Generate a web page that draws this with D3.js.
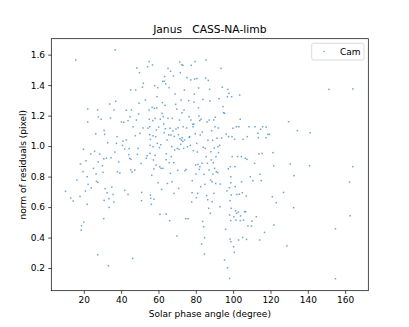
<!DOCTYPE html>
<html>
<head>
<meta charset="utf-8">
<script src="https://cdn.jsdelivr.net/npm/d3@7"></script>
<style>
  body { margin: 0; background: #fff; }
  svg { display: block; font-family: "DejaVu Sans", sans-serif; }
</style>
</head>
<body>
<div id="chart"></div>
<script>
// Janus / CASS-NA-limb residuals
var chartTitle = "Janus   CASS-NA-limb";
var seriesName = "Cam";
var xTicks = [20, 40, 60, 80, 100, 120, 140, 160];
var yTicks = [0.2, 0.4, 0.6, 0.8, 1.0, 1.2, 1.4, 1.6];

var phaseAngle = [
  10.2, 13.0, 14.3, 15.7, 16.3, 18.2, 18.0, 18.8, 18.6, 20.0, 19.6, 19.8, 20.9, 21.2, 21.8, 21.8, 22.1, 22.1, 22.3, 23.7,
  24.0, 25.2, 25.8, 26.4, 26.6, 26.8, 27.4, 27.8, 27.7, 27.5, 27.5, 28.6, 29.3, 30.0, 30.3, 30.7, 30.9, 31.2, 30.9, 31.4,
  30.7, 32.1, 32.5, 32.8, 33.2, 33.5, 33.6, 33.9, 34.3, 34.6, 35.0, 35.7, 36.1, 36.2, 36.6, 36.8, 37.1, 37.5, 37.8, 38.0,
  38.7, 39.3, 40.2, 40.7, 41.0, 41.4, 41.9, 41.9, 42.8, 42.8, 43.7, 43.7, 44.1, 44.3, 44.6, 44.8, 45.1, 45.1, 45.3, 45.9,
  45.5, 46.2, 46.4, 47.3, 47.6, 47.8, 48.2, 48.4, 48.7, 49.1, 49.4, 49.6, 49.8, 50.1, 50.7, 50.9, 51.0, 51.4, 51.7, 51.9,
  53.0, 53.5, 53.9, 54.2, 54.4, 55.0, 55.0, 55.1, 55.3, 55.3, 55.5, 55.5, 55.7, 55.7, 55.8, 56.2, 56.4, 56.6, 56.8, 57.0,
  57.1, 57.1, 57.3, 57.5, 57.6, 57.8, 58.0, 58.2, 58.2, 58.5, 58.7, 58.9, 59.1, 59.2, 59.4, 59.6, 59.8, 60.1, 60.5, 60.7,
  60.8, 61.0, 61.2, 61.4, 61.7, 61.9, 62.1, 62.3, 62.4, 62.6, 62.8, 63.0, 63.2, 63.3, 63.5, 63.7, 63.9, 64.1, 64.2, 64.2,
  64.6, 64.8, 65.1, 65.1, 65.5, 65.7, 65.8, 66.0, 66.2, 66.4, 66.5, 66.7, 66.9, 67.1, 67.3, 67.4, 67.8, 68.0, 68.2, 68.3,
  68.5, 68.7, 68.9, 69.2, 69.4, 69.8, 69.9, 70.1, 70.3, 70.5, 70.7, 70.8, 71.0, 71.2, 71.4, 71.5, 71.7, 71.9, 72.1, 72.3,
  72.4, 72.6, 72.8, 73.0, 73.1, 73.3, 73.5, 73.7, 73.9, 74.0, 74.2, 74.6, 74.8, 75.1, 75.3, 75.5, 75.8, 76.2, 76.4, 76.5,
  76.7, 77.1, 77.3, 77.4, 77.6, 77.8, 78.0, 78.1, 78.3, 78.5, 78.7, 78.9, 79.0, 79.2, 79.4, 79.6, 79.7, 79.9, 80.1, 80.3,
  80.5, 80.6, 80.8, 81.0, 81.2, 81.4, 81.5, 81.7, 81.9, 82.1, 82.2, 82.4, 82.6, 82.8, 83.1, 83.3, 83.5, 83.7, 83.8, 84.0,
  84.2, 84.4, 84.6, 84.7, 84.9, 85.1, 85.3, 85.5, 85.6, 85.8, 86.0, 86.2, 86.4, 86.5, 86.7, 86.9, 87.1, 87.2, 87.4, 87.6,
  87.8, 87.9, 88.1, 88.3, 88.5, 88.7, 88.8, 89.0, 89.2, 89.4, 89.6, 89.7, 89.9, 90.1, 90.3, 90.4, 90.6, 90.8, 91.0, 91.3,
  91.7, 91.9, 92.1, 92.2, 92.4, 92.8, 92.9, 93.1, 93.5, 93.8, 94.2, 94.5, 94.9, 95.4, 95.4, 96.0, 96.3, 96.7, 96.9, 97.0,
  97.2, 97.4, 97.6, 97.8, 98.0, 98.1, 98.1, 98.3, 98.3, 98.5, 98.7, 98.7, 98.8, 98.8, 99.0, 99.0, 99.2, 99.4, 99.5, 99.9,
  100.3, 100.4, 100.6, 100.8, 101.0, 101.1, 101.3, 101.5, 101.7, 101.9, 102.0, 102.4, 102.8, 102.9, 103.1, 103.3, 103.5, 103.8, 103.8, 104.0,
  104.4, 104.5, 104.9, 105.1, 105.3, 105.6, 106.1, 106.5, 106.7, 107.0, 107.2, 107.4, 107.6, 107.9, 108.5, 109.2, 109.8, 110.1, 110.6, 111.5,
  111.7, 112.4, 113.3, 113.5, 113.8, 114.2, 114.4, 114.7, 115.1, 115.5, 115.8, 116.8, 117.6, 117.7, 118.6, 119.5, 121.0, 121.3, 121.7, 121.9,
  123.1, 127.0, 128.8, 129.7, 130.6, 132.4, 132.6, 134.4, 140.9, 141.3, 151.3, 154.8, 154.8, 162.3, 162.7, 164.1, 164.1
];

var residualNorm = [
  0.703, 0.659, 0.640, 1.565, 0.777, 0.882, 0.670, 0.478, 0.449, 0.502, 0.832, 0.979, 0.705, 0.904, 0.799, 0.618, 1.243, 1.158, 0.749, 0.948,
  0.725, 0.854, 0.966, 1.081, 0.817, 0.769, 1.237, 1.191, 0.896, 0.287, 0.762, 0.948, 1.176, 0.871, 0.828, 0.917, 1.103, 1.077, 0.644, 0.721,
  0.524, 0.921, 0.694, 1.022, 0.215, 0.655, 0.598, 1.276, 1.184, 0.924, 0.731, 0.683, 0.633, 1.237, 0.961, 1.631, 1.294, 1.018, 1.062, 0.832,
  0.896, 0.823, 1.158, 1.005, 1.033, 1.156, 0.710, 0.981, 1.235, 1.040, 1.167, 0.683, 0.944, 0.983, 0.919, 1.193, 0.845, 1.368, 0.913, 0.830,
  1.237, 0.263, 1.127, 0.843, 1.068, 1.368, 1.171, 1.512, 0.946, 0.985, 1.211, 1.281, 1.482, 1.084, 0.887, 0.642, 0.696, 1.386, 1.119, 1.412,
  1.302, 0.920, 0.937, 1.521, 1.117, 1.554, 1.237, 1.176, 1.127, 1.075, 1.005, 0.952, 1.044, 0.679, 0.657, 0.618, 0.808, 1.254, 1.532, 1.167,
  1.068, 0.996, 0.909, 0.850, 0.651, 1.248, 1.397, 1.182, 0.939, 1.062, 0.876, 1.106, 1.250, 1.324, 1.018, 1.383, 0.760, 1.125, 0.990, 0.865,
  0.552, 1.176, 1.009, 0.854, 0.716, 1.215, 1.285, 1.425, 0.854, 1.193, 1.145, 1.088, 1.425, 1.456, 1.267, 1.114, 1.408, 0.911, 0.950, 0.554,
  1.040, 0.755, 1.510, 1.182, 1.073, 1.383, 0.891, 0.511, 1.117, 0.821, 1.491, 1.073, 0.931, 0.996, 0.766, 1.182, 1.099, 1.460, 0.891, 0.690,
  1.064, 0.974, 1.342, 1.274, 1.112, 1.243, 0.410, 0.985, 0.841, 1.121, 1.075, 0.723, 0.979, 1.171, 1.552, 1.049, 1.482, 1.012, 1.302, 1.040,
  1.534, 1.219, 1.055, 1.031, 1.530, 1.127, 0.985, 1.237, 1.368, 1.040, 0.839, 0.524, 0.847, 1.119, 1.449, 0.996, 0.524, 1.298, 1.193, 1.057,
  1.062, 1.005, 1.434, 1.171, 1.530, 0.633, 0.694, 0.773, 1.143, 1.127, 0.970, 1.145, 1.289, 1.342, 1.440, 1.554, 1.081, 0.876, 0.817, 0.661,
  1.018, 1.443, 0.961, 0.690, 0.880, 1.252, 1.381, 1.197, 0.847, 1.167, 0.865, 1.073, 0.734, 1.176, 0.357, 0.887, 1.092, 0.506, 1.307, 0.992,
  0.471, 0.815, 0.292, 0.399, 0.749, 0.985, 1.447, 1.565, 0.931, 0.675, 1.158, 0.887, 0.648, 1.038, 1.431, 0.592, 0.843, 1.171, 1.372, 1.296,
  0.559, 0.777, 0.963, 0.909, 1.101, 0.766, 0.635, 1.038, 0.815, 0.891, 1.171, 0.690, 0.987, 0.854, 1.127, 1.189, 0.755, 0.931, 0.832, 1.051,
  0.826, 0.996, 1.119, 0.957, 1.311, 1.005, 0.602, 0.751, 1.510, 1.053, 1.386, 1.259, 1.219, 1.215, 0.252, 0.454, 1.079, 0.707, 1.324, 0.202,
  1.372, 0.852, 1.062, 1.346, 0.727, 0.132, 0.548, 0.642, 0.390, 0.865, 0.799, 0.511, 0.760, 0.373, 0.679, 0.592, 1.324, 1.062, 0.931, 1.117,
  0.340, 0.537, 0.303, 1.044, 0.865, 0.734, 0.576, 0.515, 1.127, 0.559, 0.683, 0.931, 0.568, 0.384, 1.127, 0.685, 1.335, 1.176, 0.511, 0.542,
  0.931, 0.766, 0.694, 0.401, 1.044, 0.515, 0.570, 0.920, 0.570, 0.672, 0.388, 0.913, 1.062, 0.476, 1.127, 0.799, 0.476, 0.508, 0.773, 0.887,
  1.127, 0.537, 1.084, 1.055, 0.948, 0.384, 0.815, 1.110, 0.773, 0.952, 1.127, 0.434, 1.055, 1.125, 1.077, 1.077, 0.668, 0.957, 0.871, 0.482,
  0.629, 0.696, 0.346, 1.160, 0.882, 0.596, 0.806, 1.101, 0.871, 1.088, 1.372, 0.458, 0.130, 0.764, 0.543, 1.375, 0.865
];

var width = 409, height = 327;
var margin = { top: 38.7, right: 40.7, bottom: 36.3, left: 51.3 };
var innerW = width - margin.left - margin.right;
var innerH = height - margin.top - margin.bottom;

var svg = d3.select('#chart').append('svg')
    .attr('width', width)
    .attr('height', height);

var x = d3.scaleLinear().domain([2.6, 172.4]).range([0, innerW]);
var y = d3.scaleLinear().domain([0.0515, 1.7045]).range([innerH, 0]);

var g = svg.append('g')
    .attr('transform', 'translate(' + margin.left + ',' + margin.top + ')');

// points
var pts = d3.range(phaseAngle.length).map(function(i){
    return { a: phaseAngle[i], r: residualNorm[i] };
});
g.selectAll('rect.pt').data(pts).enter().append('rect')
    .attr('class', 'pt')
    .attr('x', function(d){ return x(d.a) - 0.75; })
    .attr('y', function(d){ return y(d.r) - 0.75; })
    .attr('width', 1.5)
    .attr('height', 1.5)
    .attr('fill', '#1f77b4')
    .attr('fill-opacity', 0.65);

// axes
var xAxis = g.append('g')
    .attr('transform', 'translate(0,' + innerH + ')')
    .call(d3.axisBottom(x).tickValues(xTicks).tickSize(3.1).tickPadding(3.2).tickFormat(d3.format('d')));
var yAxis = g.append('g')
    .call(d3.axisLeft(y).tickValues(yTicks).tickSize(3.1).tickPadding(3.2).tickFormat(d3.format('.1f')));

[xAxis, yAxis].forEach(function(ax){
    ax.select('.domain').remove();
    ax.selectAll('line').attr('stroke', '#000').attr('stroke-width', 0.7);
    ax.selectAll('text').attr('fill', '#000').style('font-size', '9px')
        .style('font-family', '"DejaVu Sans", sans-serif');
});

// frame
g.append('rect')
    .attr('width', innerW)
    .attr('height', innerH)
    .attr('fill', 'none')
    .attr('stroke', '#000')
    .attr('stroke-width', 0.7);

// title and labels
svg.append('text')
    .attr('x', margin.left + innerW / 2)
    .attr('y', 33)
    .attr('text-anchor', 'middle')
    .style('font-size', '10.7px')
    .style('white-space', 'pre')
    .text(chartTitle);

svg.append('text')
    .attr('x', margin.left + innerW / 2)
    .attr('y', 317)
    .attr('text-anchor', 'middle')
    .style('font-size', '9px')
    .text('Solar phase angle (degree)');

svg.append('text')
    .attr('transform', 'translate(26,' + (margin.top + innerH / 2) + ') rotate(-90)')
    .attr('text-anchor', 'middle')
    .style('font-size', '9px')
    .text('norm of residuals (pixel)');

// legend
var lg = svg.append('g').attr('transform', 'translate(311.7,43.3)');
lg.append('rect')
    .attr('width', 52.3)
    .attr('height', 16.7)
    .attr('rx', 2)
    .attr('fill', '#fff')
    .attr('fill-opacity', 0.8)
    .attr('stroke', '#ccc')
    .attr('stroke-width', 0.7);
lg.append('rect')
    .attr('x', 11.8)
    .attr('y', 7.6)
    .attr('width', 1.3)
    .attr('height', 1.3)
    .attr('fill', '#1f77b4')
    .attr('fill-opacity', 0.65);
lg.append('text')
    .attr('x', 28.3)
    .attr('y', 11.6)
    .style('font-size', '9px')
    .text(seriesName);
</script>
</body>
</html>
